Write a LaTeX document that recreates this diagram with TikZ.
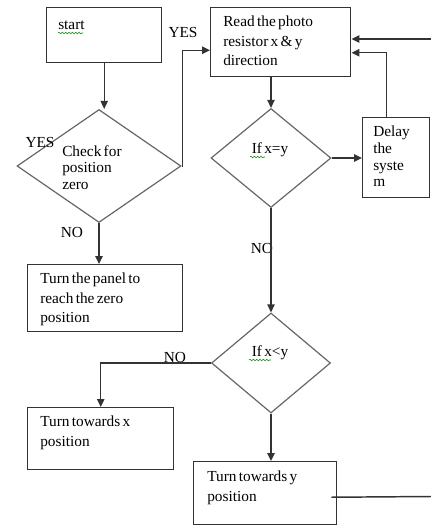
\documentclass[tikz,border=0pt]{standalone}
\usepackage{fontspec}
\setmainfont{Liberation Serif}[WordSpace=0.6]
\usetikzlibrary{shapes.geometric,arrows.meta,decorations.pathmorphing,calc}
\begin{document}
\begin{tikzpicture}[x=0.75pt,y=-0.75pt,
  box/.style={draw=black!80,line width=1.1pt,rectangle,inner sep=0,anchor=north west},
  dec/.style={draw=black!60,line width=0.9pt,diamond,inner sep=0},
  txt/.style={font=\fontsize{11.5}{14.4}\selectfont,align=left,anchor=north west,inner sep=0},
  tighttxt/.style={font=\fontsize{11.5}{12.5}\selectfont,align=left,anchor=north west,inner sep=0},
  lbl/.style={font=\fontsize{11.5}{14.4}\selectfont,inner sep=0},
  conn/.style={draw=black!80,line width=1.1pt},
  arr/.style={conn,-{Triangle[width=5.5pt,length=6pt]}},
  squig/.style={draw=green!55!black,line width=0.4pt,decorate,decoration={snake,amplitude=0.6pt,segment length=2.5pt}}
]
\useasboundingbox (0,0) rectangle (431,526);

% boxes
\node[box,minimum width=86.25pt,minimum height=41.25pt] (start) at (46,7) {};
\node[box,minimum width=105pt,minimum height=51.75pt] (read) at (210,7) {};
\node[box,minimum width=50.25pt,minimum height=60pt] (delay) at (362,117) {};
\node[box,minimum width=116.25pt,minimum height=50.25pt] (panel) at (27,264) {};
\node[box,minimum width=109.5pt,minimum height=46.5pt] (turnx) at (27,407) {};
\node[box,minimum width=107.25pt,minimum height=47.25pt] (turny) at (193,461) {};

% diamonds
\node[dec,minimum width=123pt,minimum height=84.75pt] (d1) at (99,166) {};
\node[dec,minimum width=90pt,minimum height=74.25pt] (d2) at (271,158) {};
\node[dec,minimum width=89.25pt,minimum height=75pt] (d3) at (271,363) {};

% texts
\node[lbl,anchor=base west] (tstart) at (58,29) {start};
\node[txt] (tread) at (223,16) {Read the photo\\resistor x \& y\\direction};
\node[tighttxt] (tdelay) at (373,126) {Delay\\the\\syste\\m};
\node[txt] (tpanel) at (40,273) {Turn the panel to\\reach the zero\\position};
\node[txt] (tturnx) at (40,416) {Turn towards x\\position};
\node[txt] (tturny) at (207,471) {Turn towards y\\position};
\node[tighttxt] (td1) at (62,145) {Check for\\position\\zero};
\node[lbl] (td2) at (270,150) {If x=y};
\node[lbl] (td3) at (270,353) {If x<y};

% spell-check squiggles
\draw[squig] (58,33) -- (83,33);
\draw[squig] (250,157) -- (265,157);
\draw[squig] (249,360) -- (271,360);

% edge labels
\node[lbl] (yes1) at (183,32) {YES};
\node[lbl] (yes2) at (40,142) {YES};
\node[lbl] (no1) at (72,232) {NO};
\node[lbl] (no2) at (262,248) {NO};
\node[lbl] (no3) at (175,357) {NO};

% free ends
\coordinate (inR) at (431,39);
\coordinate (outR) at (431,496.5);

% connectors
\draw[arr] (start.south) -- (start.south |- d1.north);
\draw[arr] (d1.south) -- (d1.south |- panel.north);
\draw[arr] (d1.east) -- ++(1,0) |- ($(read.west)+(0,8)$);
\draw[arr] (d2.north |- read.south) -- (d2.north);
\draw[arr] (d2.east) -- (d2.east -| delay.west);
\draw[arr] ($(delay.north)+(-10,0)$) |- ($(read.east)+(0,10.5)$);
\draw[arr] (inR) -- (inR -| read.east);
\draw[arr] (d2.south) -- (d3.north);
\draw[arr] (d3.west) -| (turnx.north);
\draw[arr] (d3.south) -- (d3.south |- turny.north);
\draw[conn] ($(turny.east)+(-6,4)$) -- (outR);
\end{tikzpicture}
\end{document}
